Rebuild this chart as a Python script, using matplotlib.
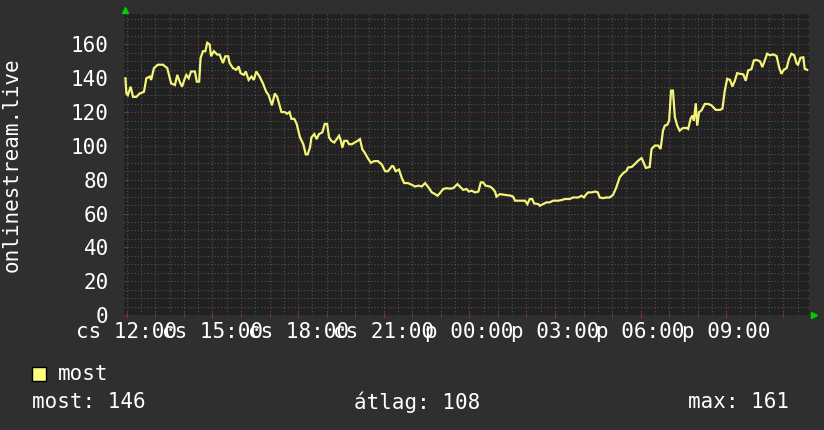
import numpy as np
import matplotlib.pyplot as plt
from matplotlib.patches import Rectangle

# first sample at 11:54 (thursday), minutes since then
start_hour = 11.9
minutes = [
    3, 5, 8, 14, 19, 26, 33, 42, 47, 54, 57, 63, 71, 82, 91, 99, 107, 112, 117, 122,
    128, 131, 136, 141, 149, 153, 158, 161, 166, 171, 175, 180, 183, 189, 196, 201, 208, 213, 219, 222,
    229, 236, 241, 245, 252, 256, 262, 268, 273, 278, 285, 292, 299, 304, 311, 317, 322, 327, 331, 338,
    343, 348, 352, 358, 363, 370, 377, 382, 386, 391, 394, 400, 405, 410, 417, 422, 427, 431, 436, 442,
    447, 452, 456, 459, 463, 469, 473, 479, 485, 491, 496, 501, 506, 512, 519, 526, 534, 542, 549, 555,
    563, 566, 571, 578, 584, 589, 597, 605, 612, 619, 626, 633, 640, 647, 654, 659, 664, 671, 678, 685,
    692, 701, 706, 713, 720, 725, 731, 738, 745, 750, 755, 760, 769, 774, 780, 783, 790, 801, 811, 818,
    822, 832, 843, 848, 853, 858, 862, 871, 874, 881, 888, 895, 902, 913, 920, 927, 937, 944, 955, 962,
    967, 972, 976, 983, 991, 996, 1000, 1007, 1014, 1021, 1028, 1035, 1042, 1049, 1056, 1060, 1067, 1074, 1081, 1088,
    1091, 1097, 1105, 1109, 1116, 1123, 1128, 1133, 1137, 1142, 1146, 1150, 1154, 1158, 1163, 1168, 1175, 1183, 1186, 1191,
    1195, 1198, 1202, 1205, 1209, 1214, 1221, 1228, 1235, 1244, 1253, 1258, 1263, 1268, 1274, 1279, 1284, 1289, 1295, 1302,
    1307, 1312, 1319, 1324, 1330, 1337, 1342, 1347, 1352, 1358, 1365, 1372, 1377, 1382, 1387, 1393, 1398, 1403, 1409, 1414,
    1417, 1422, 1428, 1431, 1436,
]
viewers = [
    140, 131, 130, 135, 129, 129, 131, 132, 140, 141, 139, 146, 148, 148, 146, 137, 136, 142, 138, 135,
    140, 142, 140, 144, 144, 138, 138, 152, 156, 156, 161, 160, 153, 156, 154, 154, 149, 153, 153, 149,
    146, 145, 147, 143, 142, 144, 139, 141, 139, 144, 141, 137, 132, 130, 124, 131, 129, 124, 120, 120,
    119, 120, 116, 116, 113, 105, 101, 95, 95, 99, 105, 107, 104, 107, 108, 113, 113, 105, 103, 102,
    104, 106, 103, 99, 103, 103, 101, 101, 102, 103, 104, 98, 96, 93, 90, 91, 91, 89, 85, 85,
    88, 88, 85, 86, 81, 78, 78, 77, 76, 76.5, 76, 78, 75.5, 72.5, 71.5, 70.5, 72, 74.5, 75, 74.7,
    75, 77.4, 76, 74, 74.5, 73, 73.5, 72.5, 73, 78.4, 78.4, 76.5, 76, 75, 73, 70, 71.5, 71, 70.7, 70,
    67.6, 67.6, 67.6, 65.6, 68.6, 68.6, 66, 65.6, 64.6, 65.6, 66.6, 66.6, 67.6, 67.6, 68, 68.6, 68.6, 69.5, 69.5, 70.5,
    69.5, 71.5, 72.5, 72.5, 73, 72.5, 69.5, 69.1, 69.5, 69.5, 71, 75.5, 81.4, 83.8, 85.2, 87.3, 87.5, 89.3, 91.3, 92.8,
    91, 87, 87.5, 98.2, 100.2, 100.2, 98.2, 109, 112, 112.5, 115, 132.7, 132.7, 117, 112, 109, 110.6, 110.6, 110, 116,
    118, 115, 125.2, 112, 120, 121, 124.8, 124.8, 124, 121.3, 121.3, 122, 132.7, 139.7, 139, 135.1, 138.5, 143, 142.6, 142.3,
    138.5, 144.6, 145.4, 150.5, 150.8, 150, 146.6, 150.5, 154.5, 153.6, 154.1, 153.1, 146.6, 142.6, 145, 146, 151.5, 154.5, 153.6, 148.7,
    148, 152.1, 152.4, 145.6, 145,
]

tick_hours = [12, 15, 18, 21, 24, 27, 30, 33]
tick_labels = ["cs 12:00", "cs 15:00", "cs 18:00", "cs 21:00",
               "p 00:00", "p 03:00", "p 06:00", "p 09:00"]

y_ticks = [0, 20, 40, 60, 80, 100, 120, 140, 160]

legend_name = "most"
stat_last = "most: 146"
stat_avg = "átlag: 108"
stat_max = "max: 161"

# colours
canvas = "#2f2f2f"
plot_bg = "#212121"
line_col = "#f4f47a"
text_col = "#ffffff"

plt.rcParams["font.family"] = ["DejaVu Sans Mono"]

W, H = 824, 430
fig = plt.figure(figsize=(W / 100, H / 100), dpi=100, facecolor=canvas)
ax = fig.add_axes([124 / W, 115 / H, 685 / W, 301 / H])
ax.set_facecolor(plot_bg)

hours = start_hour + np.array(minutes) / 60.0
ax.plot(hours, viewers, color=line_col, linewidth=1.6, solid_joinstyle="miter")

ax.set_xlim(start_hour, start_hour + 24)
ax.set_ylim(0, 178)

# grid: minor gray dotted, major red dotted
dot = (0, (1, 2))
for v in np.arange(5, 178, 5):
    c = "#803838" if v % 20 == 0 else "#545454"
    ax.axhline(v, color=c, linewidth=0.8, linestyle=dot, zorder=0.5)
for h in np.arange(12, start_hour + 24, 0.5):
    ax.axvline(h, color="#545454", linewidth=0.8, linestyle=dot, zorder=0.5)

for s in ax.spines.values():
    s.set_visible(False)

ax.set_yticks(y_ticks)
ax.set_yticklabels([str(v) for v in y_ticks])
ax.set_xticks(tick_hours)
ax.set_xticklabels(tick_labels)
ax.set_xticks(np.arange(12, 36, 1), minor=True)
ax.tick_params(axis="y", colors="#8a3030", length=3, direction="in", labelsize=15,
               labelcolor=text_col, pad=11)
ax.tick_params(axis="x", which="both", colors="#8a3030", length=4, direction="inout",
               labelsize=15, labelcolor=text_col, pad=3)

# little green arrows at the axis ends
ax.plot([125 / W], [1 - 10 / H], marker="^", color="#00d000", markersize=4,
        transform=fig.transFigure, clip_on=False)
ax.plot([814 / W], [1 - 315 / H], marker=">", color="#00d000", markersize=4,
        transform=fig.transFigure, clip_on=False)

fig.text(12 / W, 1 - 165 / H, "onlinestream.live", rotation=90, color=text_col,
         fontsize=15, ha="center", va="center")

# legend and stats
fig.patches.append(Rectangle((32 / W, 1 - 381 / H), 14 / W, 14 / H, transform=fig.transFigure,
                             facecolor="#ffff80", edgecolor="black", linewidth=1))
fig.text(58 / W, 1 - 374 / H, legend_name, color=text_col, fontsize=15, va="center")
fig.text(32 / W, 1 - 402 / H, stat_last, color=text_col, fontsize=15, va="center")
fig.text(354 / W, 1 - 402 / H, stat_avg, color=text_col, fontsize=15, va="center")
fig.text(688 / W, 1 - 402 / H, stat_max, color=text_col, fontsize=15, va="center")

fig.savefig("out.png", dpi=100, facecolor=canvas)
plt.close(fig)
